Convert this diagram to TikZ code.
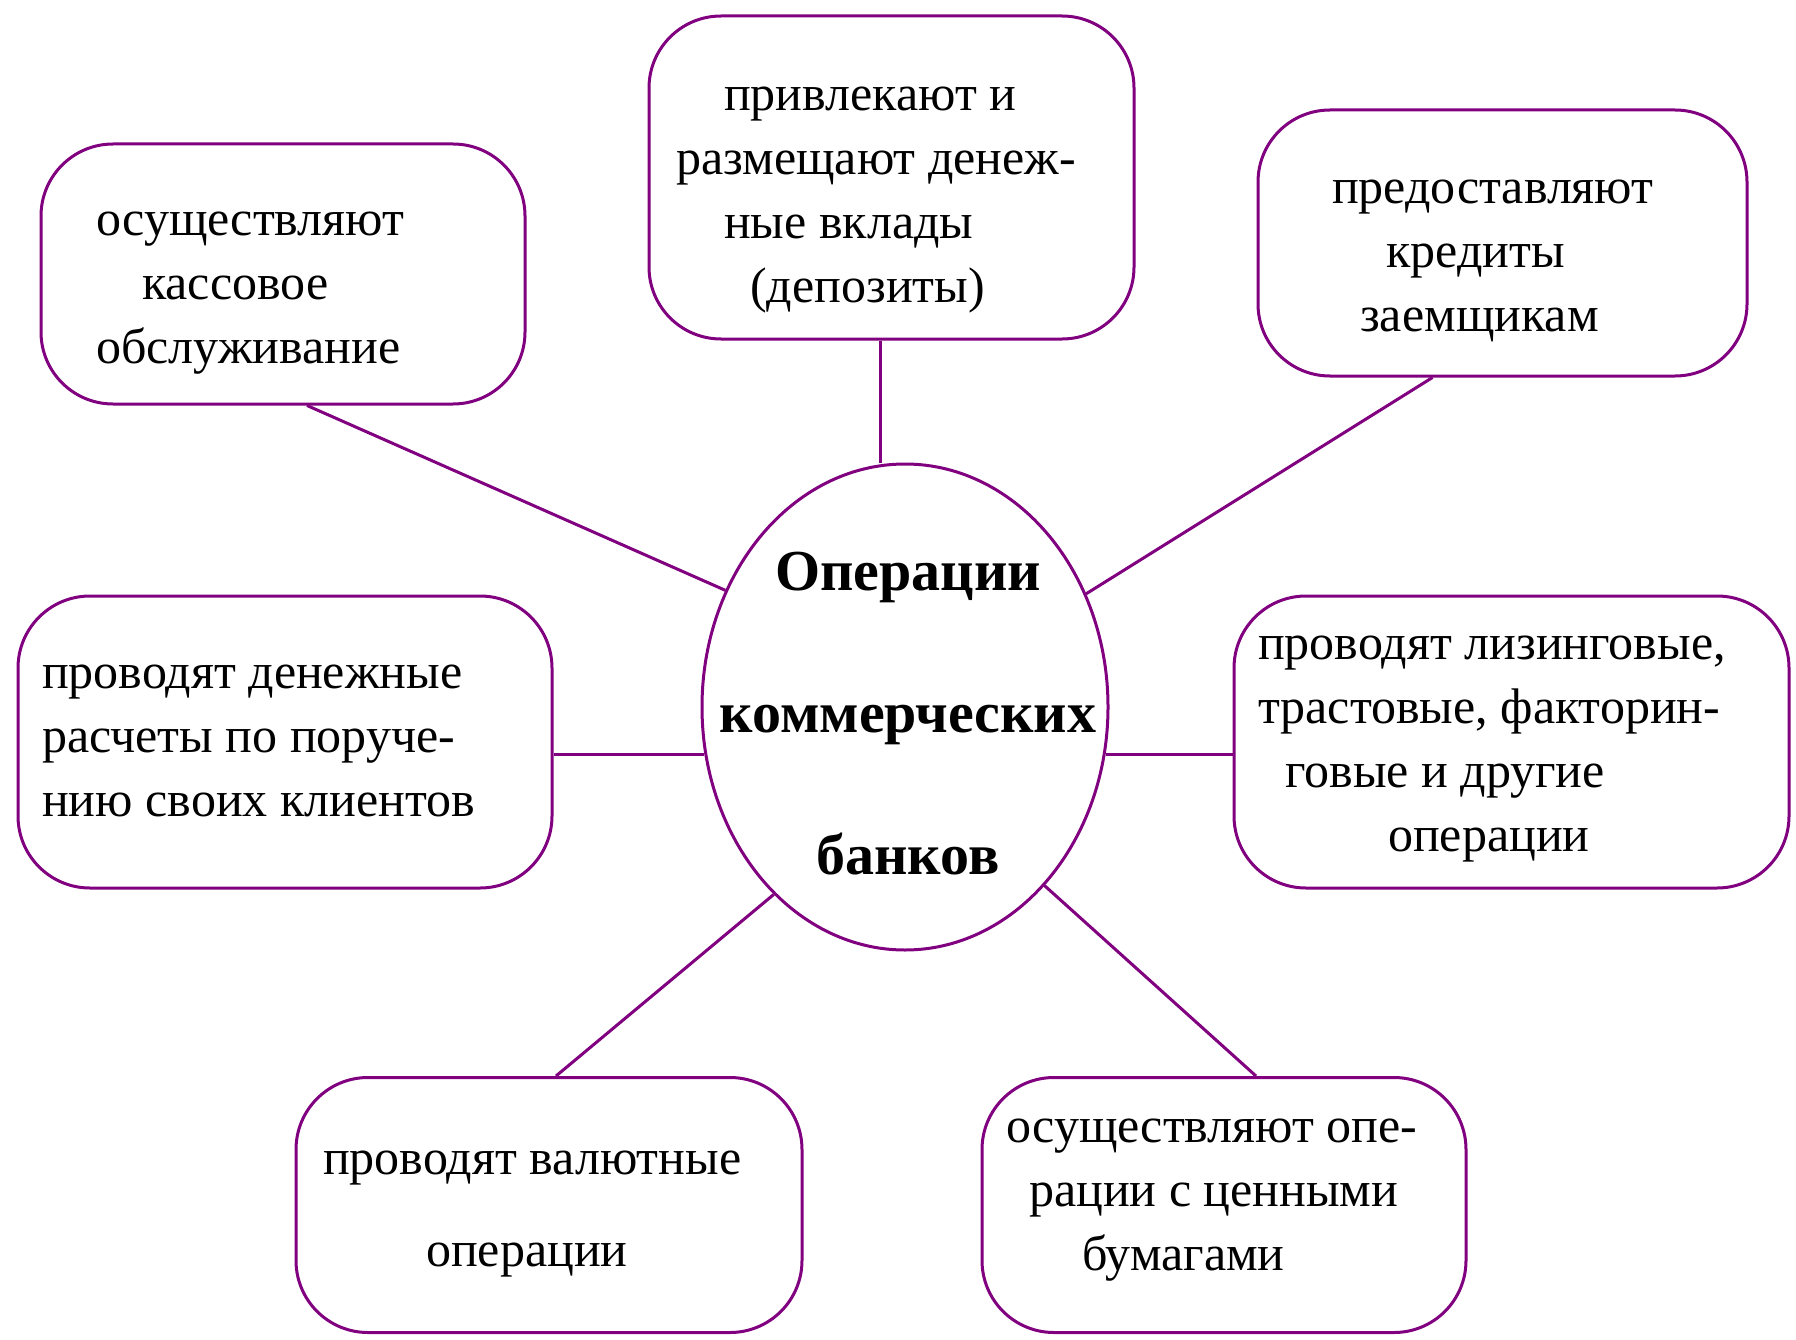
\documentclass[tikz,border=0pt]{standalone}
\usepackage{fontspec}
\setmainfont{Liberation Serif}
\usetikzlibrary{shapes.geometric,calc}
\definecolor{pur}{HTML}{800080}
\begin{document}
\begin{tikzpicture}[x=1pt,y=-1pt,
  box/.style={draw=pur, line width=3pt, fill=white, rounded corners=72pt, inner sep=0pt},
  hub/.style={ellipse, draw=pur, line width=3pt, fill=white, inner sep=0pt, minimum width=406pt, minimum height=486pt},
  conn/.style={draw=pur, line width=3pt},
  txt/.style={anchor=west, align=left, inner sep=0pt, font=\fontsize{50}{64}\selectfont},
  hubtxt/.style={align=center, inner sep=0pt, font=\fontsize{58}{70}\selectfont\bfseries}]
\useasboundingbox[fill=white] (0,0) rectangle (1796,1340);

% boxes
\node[box, minimum width=485pt, minimum height=323pt] (tb) at (891.5,177.5) {};
\node[box, minimum width=484pt, minimum height=260pt] (tl) at (283,274) {};
\node[box, minimum width=489pt, minimum height=266pt] (tr) at (1502.5,243) {};
\node[box, minimum width=534pt, minimum height=292pt] (lm) at (285,742) {};
\node[box, minimum width=555pt, minimum height=292pt] (rm) at (1511.5,742) {};
\node[box, minimum width=506pt, minimum height=255pt] (bl) at (549,1205) {};
\node[box, minimum width=484pt, minimum height=255pt] (br) at (1224,1205) {};
\node[hub] (c) at (905,707) {};

% connectors
\draw[conn] ([xshift=-11pt]tb.south) -- ([xshift=-11pt]tb.south |- c.north);
\draw[conn] ([xshift=24pt]tl.south) -- (c.147);
\draw[conn] ([xshift=-70pt]tr.south) -- (c.32);
\draw[conn] ([yshift=-12pt]lm.east) -- ([yshift=-12pt]lm.east -| c.193);
\draw[conn] ([yshift=-12pt]rm.west) -- ([yshift=-12pt]rm.west -| c.347);
\draw[conn] ([xshift=7pt]bl.north) -- (c.235);
\draw[conn] ([xshift=32pt]br.north) -- (c.308);

% texts
\node[txt] (ttb) at (676,200) {\hspace*{48pt}привлекают и\\размещают денеж-\\\hspace*{48pt}ные вклады\\\hspace*{74pt}(депозиты)};
\node[txt] (ttl) at (96,293) {осуществляют\\\hspace*{46pt}кассовое\\обслуживание};
\node[txt] (ttr) at (1332,261) {предоставляют\\\hspace*{54pt}кредиты\\\hspace*{28pt}заемщикам};
\node[txt] (tlm) at (42,741) {проводят денежные\\расчеты по поруче-\\нию своих клиентов};
\node[txt] (trm) at (1258,749) {проводят лизинговые,\\трастовые, факторин-\\\hspace*{27pt}говые и другие\\\hspace*{130pt}операции};
\node[txt] (tbl) at (323,1214) {проводят валютные\\[28pt]\hspace*{103pt}операции};
\node[txt] (tbr) at (1006,1200) {осуществляют опе-\\\hspace*{23pt}рации с ценными\\\hspace*{76pt}бумагами};
\node[hubtxt] (tc) at (908,714) {Операции\\[72pt]коммерческих\\[72pt]банков};
\end{tikzpicture}
\end{document}
